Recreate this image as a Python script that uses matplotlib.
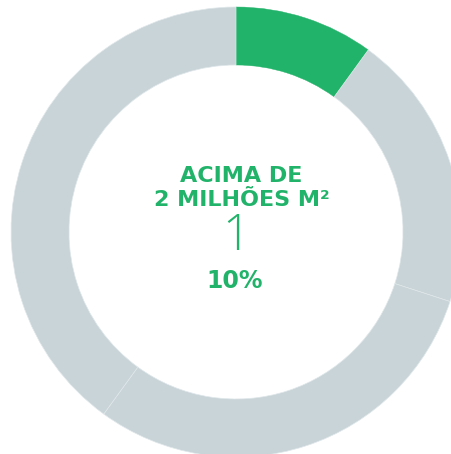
import matplotlib
matplotlib.use("Agg")
import matplotlib.pyplot as plt

# Data
categories = ["Acima de 2 milhões m²", "Faixa 2", "Faixa 3", "Faixa 4"]
values = [10, 20, 30, 40]
colors = ["#22b36a", "#c9d4d8", "#c9d4d8", "#c9d4d8"]
title_lines = ["ACIMA DE", "2 MILHÕES M²"]
highlight_label = "10%"

W, H = 451, 454
CX, CY, R = 236, 232, 225
R_IN = 167
GREEN = "#22b36a"

fig = plt.figure(figsize=(W / 100, H / 100), dpi=100)
ax = fig.add_axes([0, 0, 1, 1])
ax.set_xlim(-CX / R, (W - CX) / R)
ax.set_ylim(-(H - CY) / R, CY / R)
ax.axis("off")

wedges, _ = ax.pie(values, colors=colors, startangle=90, counterclock=False,
                   radius=1, center=(0, 0),
                   wedgeprops=dict(width=1 - R_IN / R, linewidth=0.5,
                                   edgecolor="#dfe7ea"))
wedges[0].set_edgecolor(GREEN)
wedges[0].set_linewidth(0.3)
ax.set_xlim(-CX / R, (W - CX) / R)
ax.set_ylim(-(H - CY) / R, CY / R)
ax.set_aspect("auto")


def px(x, y):
    return (x - CX) / R, (CY - y) / R


fam = ["DejaVu Sans"]
ax.text(*px(241.5, 176.5), title_lines[0], ha="center", va="center",
        fontsize=16, fontweight="bold", color=GREEN, family=fam)
ax.text(*px(242, 200), title_lines[1], ha="center", va="center",
        fontsize=16, fontweight="bold", color=GREEN, family=fam)
ax.text(*px(236, 237), "1", ha="center", va="center",
        fontsize=35, fontweight="ultralight", color=GREEN,
        family=["Open Sans", "Lato", "DejaVu Sans"])
ax.text(*px(235, 281), highlight_label, ha="center", va="center",
        fontsize=17, fontweight="bold", color=GREEN, family=fam)

fig.savefig("out.png", dpi=100)
